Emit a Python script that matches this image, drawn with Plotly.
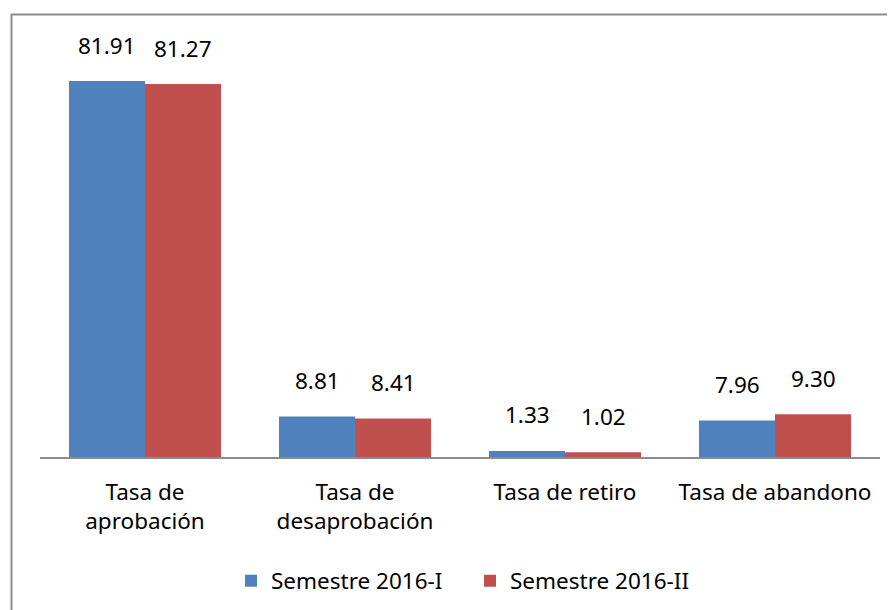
import plotly.graph_objects as go

categories = ["Tasa de<br>aprobación", "Tasa de<br>desaprobación", "Tasa de retiro", "Tasa de abandono"]
series_names = ["Semestre 2016-I", "Semestre 2016-II"]
values_2016_I = [81.91, 8.81, 1.33, 7.96]
values_2016_II = [81.27, 8.41, 1.02, 9.30]
colors = ["#4F81BD", "#C0504D"]

FONT = "Noto Sans"
FS = 22.5

# page body has an 8px margin: figure drawn 8px smaller so it fits the window
W, H = 887, 602
OFF = 8
PL, PR, PT, PB = 40 - OFF, 880 - OFF, 44 - OFF, 457 - OFF

fig = go.Figure()
for name, vals, col in zip(series_names, [values_2016_I, values_2016_II], colors):
    fig.add_trace(go.Bar(
        x=categories, y=vals, name=name,
        marker=dict(color=col, line=dict(width=0)),
    ))

annotations = []
for shift, vals in zip([-38, 38], [values_2016_I, values_2016_II]):
    for c, v in zip(categories, vals):
        annotations.append(dict(
            x=c, y=v, xref="x", yref="y", text=f"{v:.2f}", showarrow=False,
            xshift=shift, yshift=36, yanchor="middle",
            font=dict(family=FONT, size=FS, color="#000000"),
        ))

pw = PR - PL
ph = PB - PT
fig.update_layout(
    width=W, height=H,
    margin=dict(l=PL, r=W - PR, t=PT, b=H - PB, autoexpand=False),
    paper_bgcolor="white", plot_bgcolor="white",
    barmode="group", bargap=0.276, bargroupgap=0,
    font=dict(family=FONT, size=FS, color="#000000"),
    showlegend=True,
    legend=dict(orientation="h", x=0.5 + 10 / pw, xanchor="center", y=-(581 - 457) / ph, yanchor="middle",
                font=dict(family=FONT, size=FS, color="#000000"),
                itemwidth=30, tracegroupgap=0, entrywidth=194, entrywidthmode="pixels"),
    annotations=annotations,
    shapes=[dict(type="rect", xref="paper", yref="paper",
                 x0=(11.5 - 40) / pw, x1=(910 - 40) / pw,
                 y0=(457 - 630) / ph, y1=(457 - 14.5) / ph,
                 line=dict(color="#8C8C8C", width=2), fillcolor="rgba(0,0,0,0)", layer="below")],
)
fig.update_xaxes(showline=True, linecolor="#8C8C8C", linewidth=2, showgrid=False,
                 ticks="", ticklabelstandoff=14, automargin=False,
                 tickfont=dict(family=FONT, size=FS, color="#000000"))
fig.update_yaxes(range=[0, 90], visible=False, showgrid=False, zeroline=False, automargin=False)

fig.write_html("out.html")
